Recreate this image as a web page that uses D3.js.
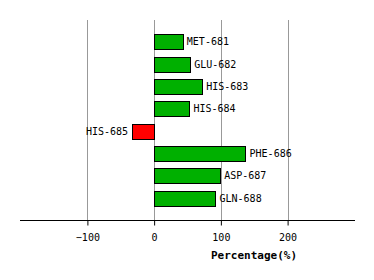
<!DOCTYPE html>
<html>
<head>
<meta charset="utf-8">
<script src="https://cdn.jsdelivr.net/npm/d3@7"></script>
<style>
  body { margin: 0; background: #fff; }
  text { font-family: "DejaVu Sans Mono", monospace; }
</style>
</head>
<body>
<script>
// residues and their percentages
var residues = ["MET-681", "GLU-682", "HIS-683", "HIS-684", "HIS-685", "PHE-686", "ASP-687", "GLN-688"];
var values = [43, 54, 72, 53, -33, 137, 99, 92];
var ticks = [-100, 0, 100, 200];

var w = 374, h = 280;
var plotTop = 20, axisY = 220;

var svg = d3.select("body").append("svg")
    .attr("width", w)
    .attr("height", h);

var xScale = d3.scaleLinear()
    .domain([-201, 301])
    .range([20, 355]);

var yScale = d3.scaleBand()
    .domain(residues)
    .range([plotTop, axisY])
    .paddingInner(0.33)
    .paddingOuter(0.65);

// grid lines
svg.selectAll("line.grid")
    .data(ticks)
  .enter().append("line")
    .attr("class", "grid")
    .attr("x1", function(d) { return Math.round(xScale(d)) + 0.5; })
    .attr("x2", function(d) { return Math.round(xScale(d)) + 0.5; })
    .attr("y1", plotTop)
    .attr("y2", axisY)
    .attr("stroke", "#999")
    .attr("stroke-width", 1);

var data = residues.map(function(r, i) { return {name: r, value: values[i]}; });

svg.selectAll("rect.bar")
    .data(data)
  .enter().append("rect")
    .attr("class", "bar")
    .attr("x", function(d) { return Math.round(xScale(Math.min(0, d.value))) + 0.5; })
    .attr("width", function(d) { return Math.round(Math.abs(xScale(d.value) - xScale(0))); })
    .attr("y", function(d) { return Math.round(yScale(d.name)) + 0.5; })
    .attr("height", Math.round(yScale.bandwidth()))
    .attr("fill", function(d) { return d.value < 0 ? "#ff0000" : "#00b000"; })
    .attr("stroke", "#000")
    .attr("stroke-width", 1);

svg.selectAll("text.lbl")
    .data(data)
  .enter().append("text")
    .attr("class", "lbl")
    .attr("x", function(d) { return d.value < 0 ? xScale(d.value) - 4 : xScale(d.value) + 4; })
    .attr("y", function(d) { return yScale(d.name) + yScale.bandwidth() / 2; })
    .attr("dy", "0.35em")
    .attr("text-anchor", function(d) { return d.value < 0 ? "end" : "start"; })
    .style("font-size", "10px")
    .text(function(d) { return d.name; });

// x axis
var xAxis = d3.axisBottom(xScale)
    .tickValues(ticks)
    .tickSize(5)
    .tickPadding(8)
    .tickFormat(d3.format("d"));

var ax = svg.append("g")
    .attr("transform", "translate(0," + (axisY + 0.5) + ")")
    .call(xAxis);
ax.select(".domain").attr("d", "M20,0H355");
ax.selectAll("text")
    .style("font-family", "DejaVu Sans Mono, monospace")
    .style("font-size", "10px")
    .attr("fill", "#000");

svg.append("text")
    .attr("x", 254)
    .attr("y", 259)
    .attr("text-anchor", "middle")
    .style("font-size", "11px")
    .style("font-weight", "bold")
    .text("Percentage(%)");
</script>
</body>
</html>
